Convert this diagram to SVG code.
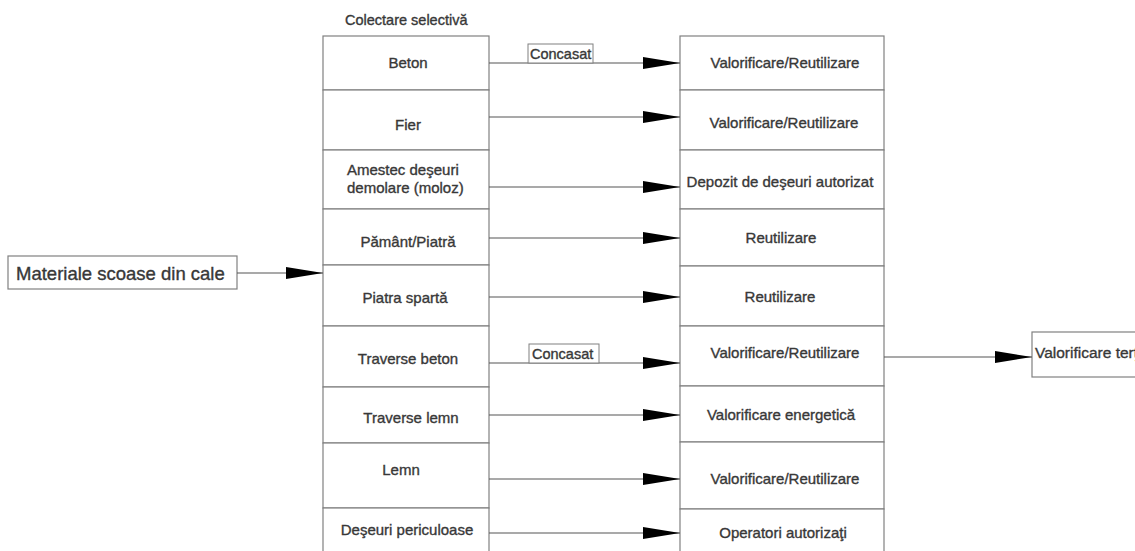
<svg xmlns="http://www.w3.org/2000/svg" width="1135" height="551" viewBox="0 0 1135 551">
<style>
  .box { fill: #ffffff; stroke: #808080; stroke-width: 1.2; }
  .lbl { fill: #ffffff; stroke: #808080; stroke-width: 1; }
  .t { font-family: "Liberation Sans", Arial, sans-serif; font-size: 15px; fill: #383838; stroke: #383838; stroke-width: 0.35; }
  .c { text-anchor: middle; }
  .big { font-size: 18.5px; }
  .conn { stroke: #555555; stroke-width: 1.1; fill: none; marker-end: url(#ah); }
</style>
<defs>
  <marker id="ah" markerUnits="userSpaceOnUse" markerWidth="37" markerHeight="12" refX="37" refY="6" orient="auto">
    <path d="M0,0 L37,6 L0,12 Z" fill="#000000"/>
  </marker>
</defs>
<rect width="1135" height="551" fill="#ffffff"/>

<text class="t" x="345" y="25" style="font-size:14.5px">Colectare selectivă</text>

<g id="materiale">
  <rect class="box" x="8" y="256" width="229" height="33"/>
  <text class="t big" x="16" y="280">Materiale scoase din cale</text>
</g>

<g id="beton"><rect class="box" x="323" y="36" width="166" height="54"/><text class="t c" x="408" y="68">Beton</text></g>
<g id="fier"><rect class="box" x="323" y="90" width="166" height="60"/><text class="t c" x="408" y="130">Fier</text></g>
<g id="amestec"><rect class="box" x="323" y="150" width="166" height="59"/><text class="t" x="347" y="175">Amestec deşeuri</text><text class="t" x="347" y="193">demolare (moloz)</text></g>
<g id="pamant"><rect class="box" x="323" y="209" width="166" height="56"/><text class="t c" x="408" y="247">Pământ/Piatră</text></g>
<g id="piatra"><rect class="box" x="323" y="265" width="166" height="61"/><text class="t c" x="405" y="303">Piatra spartă</text></g>
<g id="traverse-beton"><rect class="box" x="323" y="326" width="166" height="61"/><text class="t c" x="408" y="364">Traverse beton</text></g>
<g id="traverse-lemn"><rect class="box" x="323" y="387" width="166" height="56"/><text class="t c" x="411" y="423">Traverse lemn</text></g>
<g id="lemn"><rect class="box" x="323" y="443" width="166" height="65"/><text class="t c" x="401" y="475">Lemn</text></g>
<g id="deseuri"><rect class="box" x="323" y="508" width="166" height="60"/><text class="t c" x="407" y="535">Deşeuri  periculoase</text></g>

<g id="r1"><rect class="box" x="680" y="36" width="204" height="54"/><text class="t c" x="785" y="68">Valorificare/Reutilizare</text></g>
<g id="r2"><rect class="box" x="680" y="90" width="204" height="60"/><text class="t c" x="784" y="128">Valorificare/Reutilizare</text></g>
<g id="r3"><rect class="box" x="680" y="150" width="204" height="59"/><text class="t c" x="780" y="187">Depozit de deşeuri autorizat</text></g>
<g id="r4"><rect class="box" x="680" y="209" width="204" height="57"/><text class="t c" x="781" y="243">Reutilizare</text></g>
<g id="r5"><rect class="box" x="680" y="266" width="204" height="60"/><text class="t c" x="780" y="302">Reutilizare</text></g>
<g id="r6"><rect class="box" x="680" y="326" width="204" height="60"/><text class="t c" x="785" y="358">Valorificare/Reutilizare</text></g>
<g id="r7"><rect class="box" x="680" y="386" width="204" height="56"/><text class="t c" x="781" y="420">Valorificare energetică</text></g>
<g id="r8"><rect class="box" x="680" y="442" width="204" height="67"/><text class="t c" x="785" y="484">Valorificare/Reutilizare</text></g>
<g id="r9"><rect class="box" x="680" y="509" width="204" height="60"/><text class="t c" x="783" y="538">Operatori autorizaţi</text></g>

<g id="terti"><rect class="box" x="1032" y="332" width="130" height="45"/><text class="t" x="1035" y="358" style="font-size:15.5px">Valorificare terţi</text></g>

<g id="connectors">
  <line class="conn" x1="237" y1="273" x2="323" y2="273"/>
  <line class="conn" x1="489" y1="63" x2="680" y2="63"/>
  <line class="conn" x1="489" y1="117" x2="680" y2="117"/>
  <line class="conn" x1="489" y1="187" x2="680" y2="187"/>
  <line class="conn" x1="489" y1="238" x2="680" y2="238"/>
  <line class="conn" x1="489" y1="297" x2="680" y2="297"/>
  <line class="conn" x1="489" y1="363" x2="680" y2="363"/>
  <line class="conn" x1="489" y1="415" x2="680" y2="415"/>
  <line class="conn" x1="489" y1="479" x2="680" y2="479"/>
  <line class="conn" x1="489" y1="533" x2="680" y2="533"/>
  <line class="conn" x1="884" y1="357" x2="1032" y2="357"/>
  <g id="concasat1"><rect class="lbl" x="528" y="44" width="65" height="19"/><text class="t" x="530" y="59" style="font-size:14.5px">Concasat</text></g>
  <g id="concasat2"><rect class="lbl" x="529" y="344" width="70" height="19"/><text class="t" x="532" y="359" style="font-size:14.5px">Concasat</text></g>
</g>
</svg>
